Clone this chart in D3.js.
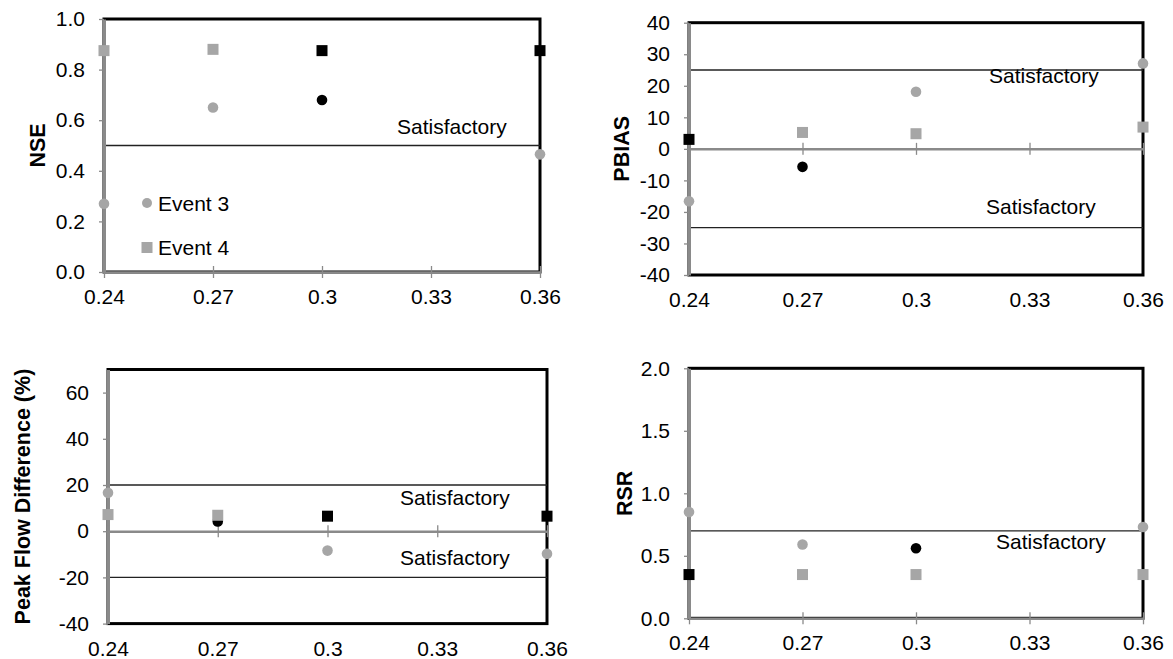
<!DOCTYPE html>
<html>
<head>
<meta charset="utf-8">
<script src="https://cdnjs.cloudflare.com/ajax/libs/d3/7.8.5/d3.min.js"></script>
<style>
body { margin: 0; background: #fff; }
svg text { font-family: "Liberation Sans", Arial, sans-serif; }
</style>
</head>
<body>
<svg id="chart" width="1173" height="659"></svg>
<script>
// Manning roughness values tested
var xTicks = [0.24, 0.27, 0.30, 0.33, 0.36];
var xLabels = ["0.24", "0.27", "0.3", "0.33", "0.36"];
var params = [0.24, 0.27, 0.30, 0.36];

// Event 3 (circles) and Event 4 (squares)
var nse3 = [0.27, 0.65, 0.68, 0.465];
var nse4 = [0.875, 0.88, 0.875, 0.875];
var pbias3 = [-16.6, -5.7, 18.1, 27.1];
var pbias4 = [3, 5.2, 4.8, 6.9];
var peak3 = [16.6, 4.2, -8.4, -9.8];
var peak4 = [7.2, 6.9, 6.5, 6.5];
var rsr3 = [0.85, 0.59, 0.56, 0.73];
var rsr4 = [0.35, 0.35, 0.35, 0.35];

// 1 = highlighted (black) point
var nseBest3 = [0, 0, 1, 0];
var nseBest4 = [0, 0, 1, 1];
var pbiasBest3 = [0, 1, 0, 0];
var pbiasBest4 = [1, 0, 0, 0];
var peakBest3 = [0, 1, 0, 0];
var peakBest4 = [0, 0, 1, 1];
var rsrBest3 = [0, 0, 1, 0];
var rsrBest4 = [1, 0, 0, 0];

// satisfactory limits
var nseLimits = [0.5];
var pbiasLimits = [25, -25];
var peakLimits = [20, -20];
var rsrLimits = [0.7];

var nseTicks = [0, 0.2, 0.4, 0.6, 0.8, 1.0];
var pbiasTicks = [-40, -30, -20, -10, 0, 10, 20, 30, 40];
var peakTicks = [-40, -20, 0, 20, 40, 60];
var rsrTicks = [0, 0.5, 1.0, 1.5, 2.0];

var gray = "#a6a6a6";
var axisGray = "#8a8a8a";
var fs = 21;

var f1 = d3.format(".1f");
var fInt = function (d) { return String(d); };

var panels = [
    {title: "NSE", s3: nse3, s4: nse4, b3: nseBest3, b4: nseBest4, limits: nseLimits,
     ticks: nseTicks, fmt: f1, domain: [0, 1], cross: 0,
     left: 104, right: 540, top: 19, bottom: 272, titleX: 37,
     notes: [{dx: 293, dy: -12}], legend: true},
    {title: "PBIAS", s3: pbias3, s4: pbias4, b3: pbiasBest3, b4: pbiasBest4, limits: pbiasLimits,
     ticks: pbiasTicks, fmt: fInt, domain: [-40, 40], cross: 0,
     left: 689, right: 1143, top: 22.7, bottom: 275, titleX: 621,
     notes: [{dx: 300, dy: 13}, {dx: 297, dy: -14}]},
    {title: "Peak Flow Difference (%)", s3: peak3, s4: peak4, b3: peakBest3, b4: peakBest4, limits: peakLimits,
     ticks: peakTicks, fmt: fInt, domain: [-40, 70], cross: 0,
     left: 108, right: 547, top: 369.5, bottom: 623.6, titleX: 22,
     notes: [{dx: 292, dy: 20}, {dx: 292, dy: -12}]},
    {title: "RSR", s3: rsr3, s4: rsr4, b3: rsrBest3, b4: rsrBest4, limits: rsrLimits,
     ticks: rsrTicks, fmt: f1, domain: [0, 2], cross: 0,
     left: 689, right: 1143, top: 368.3, bottom: 618.3, titleX: 624,
     notes: [{dx: 307, dy: 18}]}
];

var svg = d3.select("#chart");

panels.forEach(function (p) {
    var x = d3.scaleLinear().domain([0.24, 0.36]).range([p.left, p.right]);
    var y = d3.scaleLinear().domain(p.domain).range([p.bottom, p.top]);
    var g = svg.append("g");

    // plot area border
    g.append("rect")
        .attr("x", p.left).attr("y", p.top)
        .attr("width", p.right - p.left).attr("height", p.bottom - p.top)
        .attr("fill", "none").attr("stroke", "#000").attr("stroke-width", 3);

    // satisfactory limit lines
    g.selectAll(".limit").data(p.limits).enter().append("line")
        .attr("x1", p.left).attr("x2", p.right)
        .attr("y1", function (d) {return y(d);})
        .attr("y2", function (d) {return y(d);})
        .attr("stroke", "#222").attr("stroke-width", 1.3);

    g.selectAll(".note").data(p.limits).enter().append("text")
        .attr("x", function (d, i) {return p.left + p.notes[i].dx;})
        .attr("y", function (d, i) {return y(d) + p.notes[i].dy;})
        .attr("font-size", fs)
        .text("Satisfactory");

    // y axis
    var ya = g.append("g")
        .attr("transform", "translate(" + p.left + ",0)")
        .call(d3.axisLeft(y).tickValues(p.ticks).tickSize(5).tickSizeOuter(0)
            .tickPadding(14).tickFormat(p.fmt));
    ya.attr("font-family", null).attr("font-size", fs);
    ya.select(".domain").attr("stroke", axisGray).attr("stroke-width", 3);
    ya.selectAll(".tick line").attr("stroke", axisGray).attr("stroke-width", 1.3);
    ya.selectAll(".tick text").attr("fill", "#000");

    // x axis line with crossing ticks
    var xa = g.append("g")
        .attr("transform", "translate(0," + y(p.cross) + ")")
        .call(d3.axisBottom(x).tickValues(xTicks).tickSize(6).tickSizeOuter(0).tickFormat(""));
    xa.select(".domain").attr("stroke", axisGray).attr("stroke-width", 2.5);
    xa.selectAll(".tick line").attr("y1", -6).attr("stroke", axisGray).attr("stroke-width", 1.3);

    // x tick labels at the low end of the plot
    var xl = g.append("g")
        .attr("transform", "translate(0," + p.bottom + ")")
        .call(d3.axisBottom(x).tickValues(xTicks).tickSize(0).tickPadding(17)
            .tickFormat(function (d, i) {return xLabels[i];}));
    xl.attr("font-family", null).attr("font-size", fs);
    xl.select(".domain").remove();
    xl.selectAll(".tick text").attr("fill", "#000");

    // axis title
    g.append("text")
        .attr("transform", "translate(" + p.titleX + "," + ((p.top + p.bottom) / 2) + ") rotate(-90)")
        .attr("dy", "0.35em")
        .attr("text-anchor", "middle")
        .attr("font-size", 21.5).attr("font-weight", "bold")
        .text(p.title);

    // Event 3 circles
    g.selectAll(".e3").data(params).enter().append("circle")
        .attr("cx", function (d) {return x(d);})
        .attr("cy", function (d, i) {return y(p.s3[i]);})
        .attr("r", 5.3)
        .attr("fill", function (d, i) {return p.b3[i] ? "#000" : gray;});

    // Event 4 squares
    g.selectAll(".e4").data(params).enter().append("rect")
        .attr("x", function (d) {return x(d) - 5.5;})
        .attr("y", function (d, i) {return y(p.s4[i]) - 5.5;})
        .attr("width", 11).attr("height", 11)
        .attr("fill", function (d, i) {return p.b4[i] ? "#000" : gray;});

    if (p.legend) {
        var lg = g.append("g").attr("transform", "translate(147,203)");
        lg.append("circle").attr("r", 5).attr("fill", gray);
        lg.append("text").attr("x", 11).attr("y", 8).attr("font-size", fs).text("Event 3");
        lg.append("rect").attr("x", -5.5).attr("y", 39).attr("width", 11).attr("height", 11).attr("fill", gray);
        lg.append("text").attr("x", 11).attr("y", 51.5).attr("font-size", fs).text("Event 4");
    }
});
</script>
</body>
</html>
